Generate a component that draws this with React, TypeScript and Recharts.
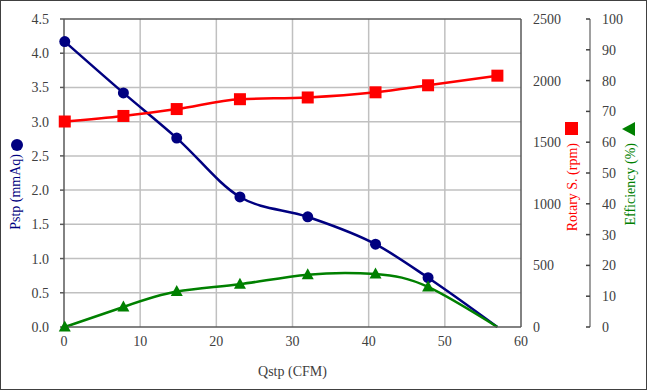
import {
  CartesianGrid,
  ComposedChart,
  Line,
  ReferenceLine,
  XAxis,
  YAxis,
} from "recharts";

const qstp = [0.1, 7.8, 14.8, 23.1, 32.0, 40.9, 47.8, 56.9];
const pstp = [4.17, 3.42, 2.76, 1.9, 1.61, 1.21, 0.72, 0];
const rpm = [1668, 1713, 1769, 1849, 1863, 1905, 1962, 2040];
const efficiency = [0, 6.5, 11.5, 13.9, 17.0, 17.2, 13.0, 0];

const xTicks = [0, 10, 20, 30, 40, 50, 60];
const pTicks = [0, 0.5, 1, 1.5, 2, 2.5, 3, 3.5, 4, 4.5];
const rpmTicks = [0, 500, 1000, 1500, 2000, 2500];
const effTicks = [0, 10, 20, 30, 40, 50, 60, 70, 80, 90, 100];

const data = qstp.map((q, i) => ({
  q,
  pstp: pstp[i],
  rpm: rpm[i],
  eff: efficiency[i],
}));

const FONT = '"Liberation Serif", serif';
const TICK = { fill: "#404040", fontSize: 14, fontFamily: FONT, style: { fontFamily: FONT } };
const AXIS_DARK = "#595959";

const lastIdx = data.length - 1;

const CircleDot = (props: any) => {
  const { cx, cy, index } = props;
  if (index === lastIdx || cx == null) return <g key={`c${index}`} />;
  return <circle key={`c${index}`} cx={cx} cy={cy} r={5.5} fill="#000080" />;
};

const SquareDot = (props: any) => {
  const { cx, cy, index } = props;
  if (cx == null) return <g key={`s${index}`} />;
  return <rect key={`s${index}`} x={cx - 6} y={cy - 6} width={12} height={12} fill="#ff0000" />;
};

const TriangleDot = (props: any) => {
  const { cx, cy, index } = props;
  if (index === lastIdx || cx == null) return <g key={`t${index}`} />;
  return (
    <polygon
      key={`t${index}`}
      points={`${cx},${cy - 6.5} ${cx + 6},${cy + 4.5} ${cx - 6},${cy + 4.5}`}
      fill="#008000"
    />
  );
};

// efficiency axis: tick marks point inward, labels outside
const EffTick = (props: any) => {
  const { x, y, payload } = props;
  return (
    <g>
      <line x1={x - 4} x2={x} y1={y} y2={y} stroke="#404040" strokeWidth={1.5} />
      <text x={x + 12} y={y} dy={5} textAnchor="start" fill="#404040" fontSize={14} fontFamily={FONT}>
        {payload.value}
      </text>
    </g>
  );
};

// rotated title, text ends at (x, top); the series marker sits above it
const AxisTitle = (props: any) => {
  const { viewBox, text, mark, color, dx, top } = props;
  const x = viewBox.x + dx;
  return (
    <g>
      <text
        x={x}
        y={top}
        transform={`rotate(-90 ${x} ${top})`}
        textAnchor="end"
        dominantBaseline="central"
        fill={color}
        fontSize={14}
        fontFamily={FONT}
      >
        {text}
      </text>
      {mark === "circle" && <circle cx={x + 2} cy={top - 9} r={6} fill={color} />}
      {mark === "square" && (
        <rect x={x - 7} y={top - 21} width={13} height={13} fill={color} />
      )}
      {mark === "triangle" && (
        <polygon
          points={`${x - 8},${top - 14} ${x + 5},${top - 21} ${x + 5},${top - 7}`}
          fill={color}
        />
      )}
    </g>
  );
};

export default function App() {
  return (
    <div style={{ position: "relative", width: 647, height: 390, fontFamily: FONT }}>
      <style>{`body{margin:0} .recharts-wrapper text{font-family:"Liberation Serif",serif !important}`}</style>
      <ComposedChart
        width={647}
        height={390}
        data={data}
        margin={{ top: 19, right: 0, bottom: 0, left: 0 }}
      >
        <CartesianGrid
          yAxisId="p"
          stroke="#c0c0c0"
          strokeWidth={1.5}
          verticalValues={[10, 20, 30, 40, 50]}
          horizontalValues={[0.5, 1, 1.5, 2, 2.5, 3, 3.5, 4]}
        />
        <XAxis
          dataKey="q"
          type="number"
          domain={[0, 60]}
          ticks={xTicks}
          interval={0}
          height={63}
          tickSize={0}
          tickMargin={9}
          tick={TICK}
          stroke={AXIS_DARK}
          strokeWidth={1.5}
          label={{
            value: "Qstp (CFM)",
            position: "insideBottom",
            offset: 14,
            fill: "#404040",
            fontSize: 14,
            fontFamily: FONT,
          }}
        />
        <YAxis
          yAxisId="p"
          orientation="left"
          width={64}
          domain={[0, 4.5]}
          ticks={pTicks}
          interval={0}
          tickFormatter={(v: number) => v.toFixed(1)}
          tickSize={4}
          tickMargin={11}
          tick={TICK}
          stroke={AXIS_DARK}
          strokeWidth={1.5}
          label={(p: any) => (
            <AxisTitle {...p} text="Pstp (mmAq)" mark="circle" color="#000080" dx={15} top={154} />
          )}
        />
        <YAxis
          yAxisId="r"
          orientation="right"
          width={69}
          domain={[0, 2500]}
          ticks={rpmTicks}
          interval={0}
          tickLine={false}
          tickSize={0}
          tickMargin={12}
          tick={TICK}
          stroke={AXIS_DARK}
          strokeWidth={1.5}
          label={(p: any) => (
            <AxisTitle {...p} text="Rotary S. (rpm)" mark="square" color="#ff0000" dx={51} top={143} />
          )}
        />
        <YAxis
          yAxisId="s"
          orientation="right"
          width={57}
          domain={[0, 100]}
          ticks={effTicks}
          interval={0}
          tickLine={false}
          tickSize={0}
          tickMargin={0}
          tick={EffTick}
          stroke="#808080"
          strokeWidth={1.5}
          label={(p: any) => (
            <AxisTitle {...p} text="Efficiency (%)" mark="triangle" color="#008000" dx={40} top={143} />
          )}
        />
        <ReferenceLine yAxisId="p" y={4.5} stroke={AXIS_DARK} strokeWidth={1.5} />
        <Line
          yAxisId="p"
          dataKey="pstp"
          type="monotone"
          stroke="#000080"
          strokeWidth={2.5}
          dot={CircleDot}
          activeDot={false}
          isAnimationActive={false}
        />
        <Line
          yAxisId="r"
          dataKey="rpm"
          type="monotone"
          stroke="#ff0000"
          strokeWidth={2.5}
          dot={SquareDot}
          activeDot={false}
          isAnimationActive={false}
        />
        <Line
          yAxisId="s"
          dataKey="eff"
          type="natural"
          stroke="#008000"
          strokeWidth={2.5}
          dot={TriangleDot}
          activeDot={false}
          isAnimationActive={false}
        />
      </ComposedChart>
      <div
        style={{
          position: "absolute",
          inset: 0,
          border: "1px solid #404040",
          pointerEvents: "none",
        }}
      />
    </div>
  );
}
